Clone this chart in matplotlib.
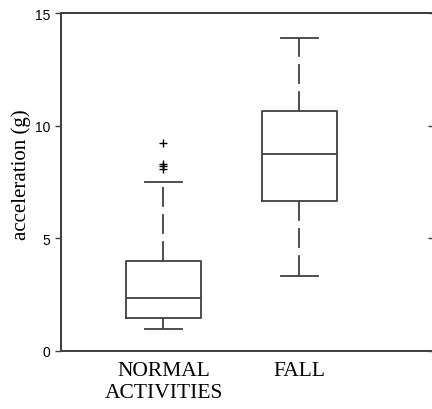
import numpy as np
import matplotlib.pyplot as plt

labels = ['NORMAL\nACTIVITIES', 'FALL']
q1 = [1.46, 6.66]
med = [2.35, 8.73]
q3 = [3.98, 10.65]
whislo = [0.99, 3.34]
whishi = [7.49, 13.91]
fliers = [[9.22, 8.32, 8.2, 8.07], []]

stats = []
for i in range(len(labels)):
    stats.append({'label': labels[i], 'q1': q1[i], 'med': med[i], 'q3': q3[i],
                  'whislo': whislo[i], 'whishi': whishi[i],
                  'fliers': np.array(fliers[i])})

col = '#404040'
fig = plt.figure(figsize=(4.32, 4.10), dpi=100)
ax = fig.add_axes([61 / 432, 1 - 352 / 410, 373 / 432, 338 / 410])

ax.bxp(stats, positions=[1, 2], widths=0.55, showfliers=True,
       boxprops=dict(color=col, linewidth=1.3),
       medianprops=dict(color=col, linewidth=1.3),
       whiskerprops=dict(color=col, linewidth=1.3, linestyle=(0, (11, 4))),
       capprops=dict(color=col, linewidth=1.3),
       capwidths=0.27,
       flierprops=dict(marker='+', markeredgecolor='black', markersize=6,
                       markeredgewidth=1.0, linestyle='none'))

ax.set_xlim(0.246, 2.99)
ax.set_ylim(0, 15)
ax.set_yticks([0, 5, 10, 15])
ax.set_yticklabels(['0', '5', '10', '15'], fontfamily='Liberation Sans', fontsize=10)
ax.set_xticklabels(labels, fontfamily='Liberation Serif', fontsize=15.5)
ax.tick_params(axis='x', length=0, pad=7)
ax.tick_params(axis='y', direction='out', length=4, width=1, color=col, pad=3.5)
ax.set_ylabel('acceleration (g)', fontfamily='Liberation Serif', fontsize=15)
ax.yaxis.set_label_coords(-0.08, 0.525)

ax2 = ax.twinx()
ax2.set_ylim(0, 15)
ax2.set_yticks([0, 5, 10, 15])
ax2.tick_params(axis='y', direction='in', length=4, width=1, color=col, labelright=False)

for a in (ax, ax2):
    for s in a.spines.values():
        s.set_color(col)
        s.set_linewidth(1.3)

fig.savefig('out.png', dpi=100)
